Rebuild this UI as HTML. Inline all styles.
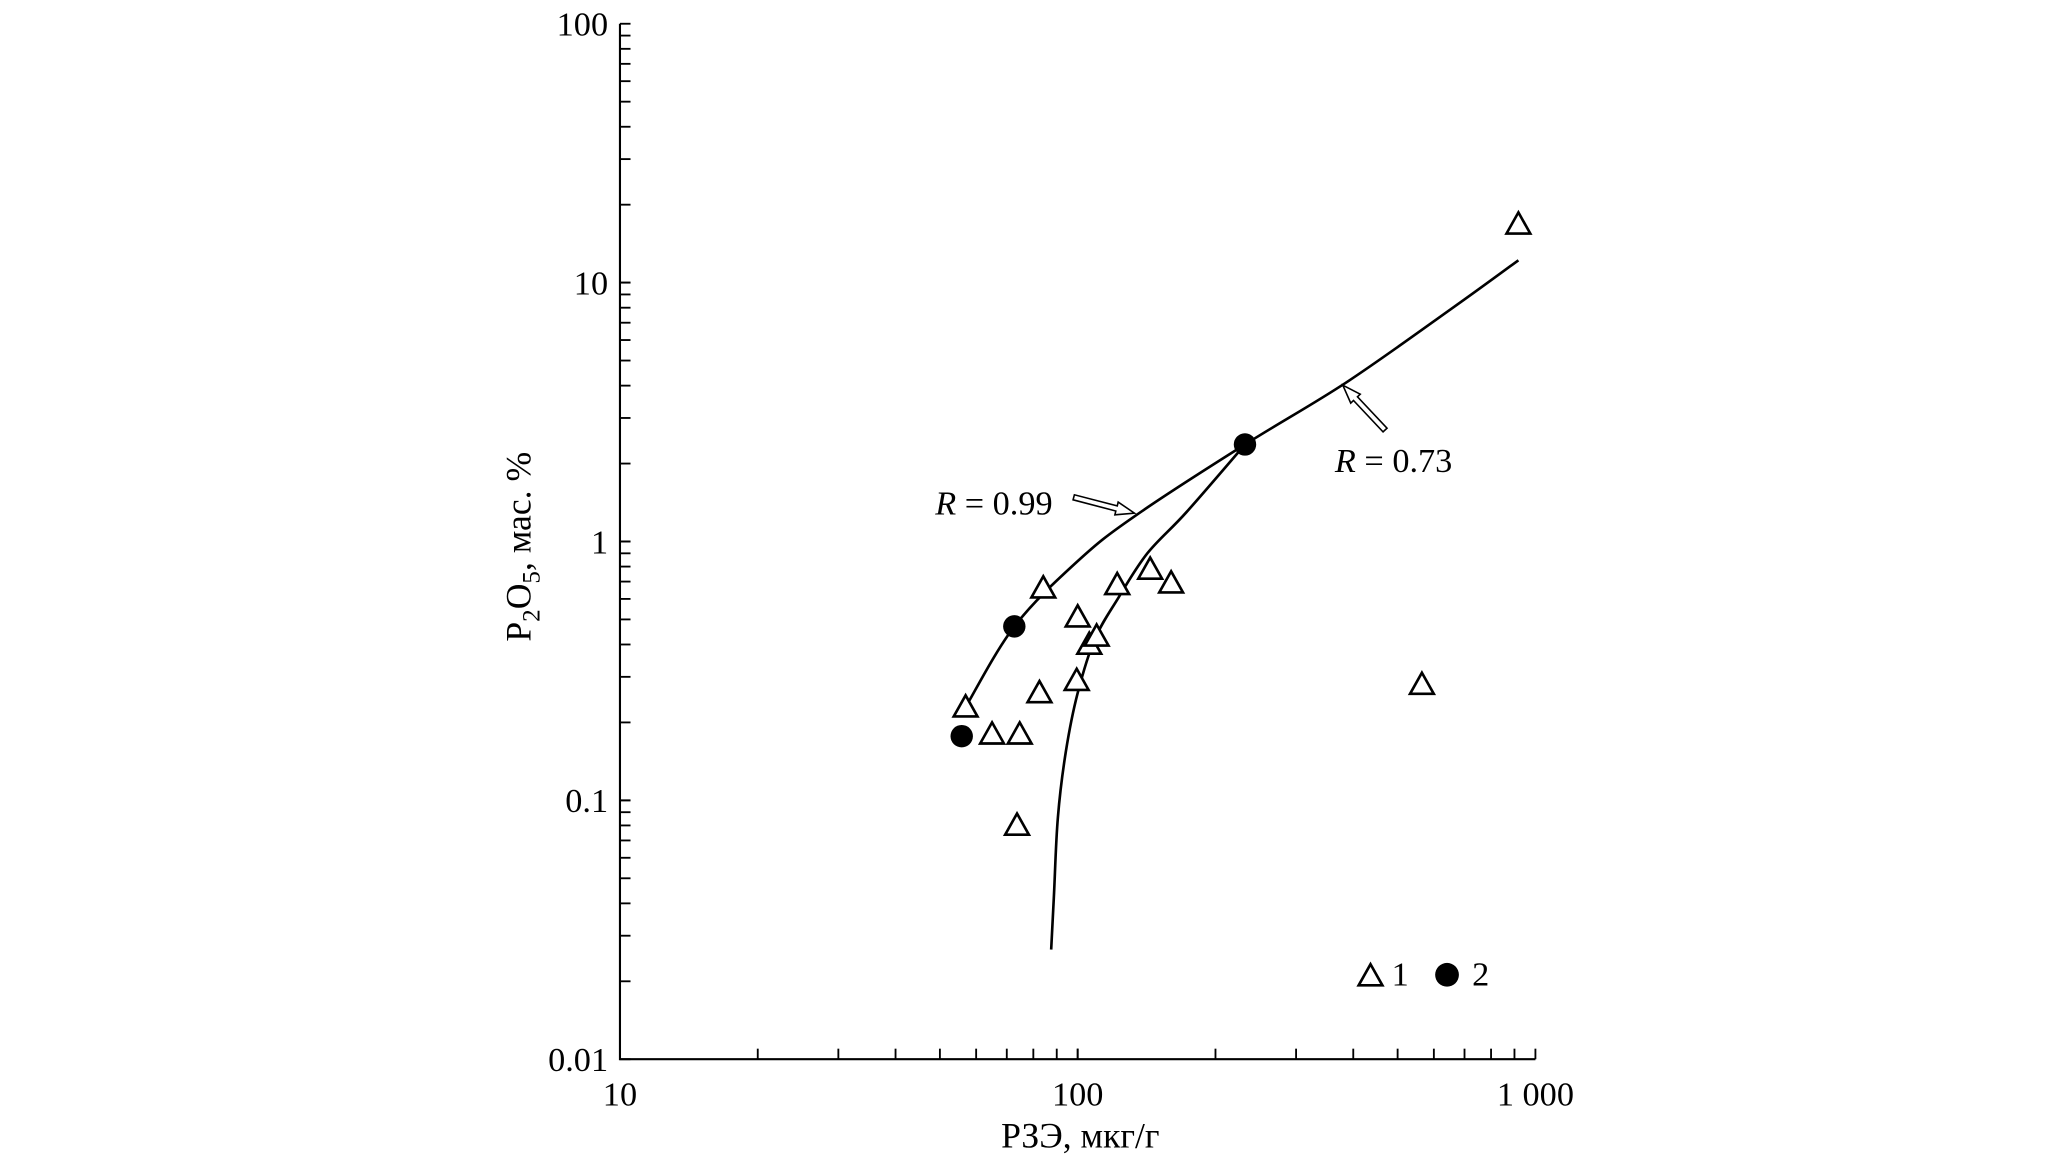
<!DOCTYPE html>
<html><head><meta charset="utf-8"><style>
html,body{margin:0;padding:0;background:#fff;}
svg{display:block;}
text{font-family:"Liberation Serif","Times New Roman",serif;}
</style></head><body>
<svg id="chart" width="2067" height="1160" viewBox="0 0 1567 879.4" xmlns="http://www.w3.org/2000/svg">
<g id="axes"></g>
<g id="curves"></g>
<g id="marks"></g>
<g id="notes"></g>
</svg>
<script>
const triX = [56.9, 84.1, 65, 74.7, 82.5, 73.7, 100, 99.5, 106, 110, 122, 144, 160, 565, 918];
const triY = [0.229, 0.66, 0.18, 0.18, 0.26, 0.08, 0.51, 0.29, 0.40, 0.43, 0.68, 0.78, 0.69, 0.28, 16.8];
const dotX = [55.8, 72.7, 232];
const dotY = [0.177, 0.47, 2.37];
const upperX = [56.9, 72.7, 100, 133, 232, 385, 654, 918];
const upperY = [0.229, 0.47, 0.84, 1.25, 2.37, 4.1, 7.9, 12.2];
const lowerX = [87.5, 88.7, 90.5, 94.2, 100, 109, 123, 142, 173, 232];
const lowerY = [0.0265, 0.042, 0.086, 0.154, 0.26, 0.42, 0.61, 0.90, 1.30, 2.37];
const yTicks = [0.01, 0.1, 1, 10, 100];
const yTickLabels = ["0.01", "0.1", "1", "10", "100"];
const xTicks = [10, 100, 1000];
const xTickLabels = ["10", "100", "1 000"];

const L=470, R=1164, T=18, B=803;
function sx(v){return L+(Math.log10(v)-1)/2*(R-L);}
function sy(v){return B-(Math.log10(v)+2)/4*(B-T);}
const NS="http://www.w3.org/2000/svg";
function mk(tag,attrs,parent,txt){const e=document.createElementNS(NS,tag);for(const k in attrs)e.setAttribute(k,attrs[k]);if(txt!==undefined)e.textContent=txt;parent.appendChild(e);return e;}
const axes=document.getElementById('axes'), curves=document.getElementById('curves'), marks=document.getElementById('marks'), notes=document.getElementById('notes');

let a=mk('path',{d:`M${L},${T}V${B}H${R}`,fill:'none',stroke:'#000','stroke-width':1.6},axes);


for(let d=-2;d<2;d++){for(let m=1;m<=10;m++){const v=m*Math.pow(10,d);const y=sy(v);
 const t=mk('line',{x1:L,x2:L+8,y1:y,y2:y,stroke:'#000','stroke-width':1.4},axes);
 
 }}
for(let d=1;d<3;d++){for(let m=1;m<=10;m++){const v=m*Math.pow(10,d);const x=sx(v);
 const t=mk('line',{x1:x,x2:x,y1:B,y2:B-8,stroke:'#000','stroke-width':1.4},axes);
 
 }}
yTicks.forEach((v,i)=>{const t=mk('text',{x:L-9,y:sy(v)+9,'text-anchor':'end','font-size':26},axes,yTickLabels[i]);
 
 });
xTicks.forEach((v,i)=>{const t=mk('text',{x:sx(v),y:B+35,'text-anchor':'middle','font-size':26},axes,xTickLabels[i]);
 
 });
let xt=mk('text',{x:(L+R)/2+2,y:B+67,'text-anchor':'middle','font-size':27},axes,'РЗЭ, мкг/г');


let yt=mk('text',{transform:`translate(402,${(T+B)/2+4}) rotate(-90)`,'text-anchor':'middle','font-size':27},axes);


yt.innerHTML='P<tspan font-size="19" dy="7">2</tspan><tspan dy="-7">O</tspan><tspan font-size="19" dy="7">5</tspan><tspan dy="-7">, мас. %</tspan>';

function line(xs,ys,name){const P=xs.map((v,i)=>[sx(v),sy(ys[i])]);
 let d='M'+P[0][0].toFixed(1)+','+P[0][1].toFixed(1);
 for(let i=0;i<P.length-1;i++){const p0=P[Math.max(0,i-1)],p1=P[i],p2=P[i+1],p3=P[Math.min(P.length-1,i+2)];
  const c1=[p1[0]+(p2[0]-p0[0])/6,p1[1]+(p2[1]-p0[1])/6],c2=[p2[0]-(p3[0]-p1[0])/6,p2[1]-(p3[1]-p1[1])/6];
  d+=`C${c1[0].toFixed(1)},${c1[1].toFixed(1)} ${c2[0].toFixed(1)},${c2[1].toFixed(1)} ${p2[0].toFixed(1)},${p2[1].toFixed(1)}`;}
 const p=mk('path',{d:d,fill:'none',stroke:'#000','stroke-width':2,'stroke-linejoin':'round'},curves);
 
 }
line(upperX,upperY,'fit-curve-r099');
line(lowerX,lowerY,'fit-curve-r073');

function tri(x,y,name){const p=mk('path',{d:`M${x},${y-9}L${x+9},${y+7}L${x-9},${y+7}Z`,fill:'#fff',stroke:'#000','stroke-width':2},marks);
 
 }
triX.forEach((v,i)=>tri(sx(v),sy(triY[i]),'triangle-point'));
dotX.forEach((v,i)=>{const c=mk('circle',{cx:sx(v),cy:sy(dotY[i]),r:8.5,fill:'#000'},marks);
 
 });

function arrow(x1,y1,x2,y2,name){const dx=x2-x1,dy=y2-y1,len=Math.hypot(dx,dy),ux=dx/len,uy=dy/len,nx=-uy,ny=ux;
 const hb=len-14;const pts=[[0,2],[hb,2],[hb,5],[len,0],[hb,-5],[hb,-2],[0,-2]].map(([a,b])=>(x1+ux*a+nx*b).toFixed(1)+','+(y1+uy*a+ny*b).toFixed(1));
 const p=mk('polygon',{points:pts.join(' '),fill:'#fff',stroke:'#000','stroke-width':1.2},notes);
 
 }
arrow(814,377,860,389,'arrow-r099');
arrow(1050,326,1018,292,'arrow-r073');
let t1=mk('text',{x:709,y:390,'font-size':26},notes);


t1.innerHTML='<tspan font-style="italic">R</tspan> = 0.99';
let t2=mk('text',{x:1012,y:358,'font-size':26},notes);


t2.innerHTML='<tspan font-style="italic">R</tspan> = 0.73';
tri(1039,740,'legend-triangle');
let l1=mk('text',{x:1055,y:747,'font-size':26},notes,'1');


let lc=mk('circle',{cx:1097,cy:739,r:9,fill:'#000'},notes);


let l2=mk('text',{x:1116,y:747,'font-size':26},notes,'2');


</script>
</body></html>
